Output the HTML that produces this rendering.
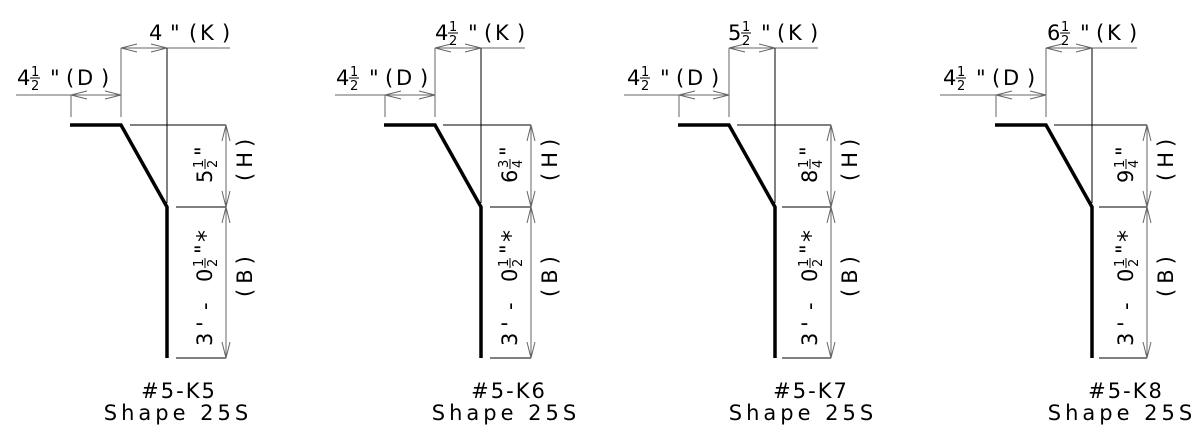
<!DOCTYPE html>
<html><head><meta charset="utf-8"><style>
html,body{margin:0;padding:0;background:#fff;}
svg{display:block;}
text{font-family:"DejaVu Sans","Liberation Sans",sans-serif;fill:#000;}
.m{font-size:21px;}
.f{font-size:13px;}
.t{stroke:#666;stroke-width:1;fill:none;}
.k{stroke:#000;stroke-width:1;fill:none;}
.th{stroke:#000;stroke-width:3.5;fill:none;stroke-linejoin:miter;}
</style></head><body>
<svg width="1200" height="433" viewBox="0 0 1200 433" xmlns="http://www.w3.org/2000/svg">

<!-- PANEL 1 -->
<g transform="translate(0,0)">
<polyline class="th" points="70,125 121,125 167,207 167,358"/>
<line class="t" x1="16" y1="95" x2="121" y2="95"/>
<line class="t" x1="71" y1="95" x2="71" y2="117"/>
<line class="t" x1="121" y1="48" x2="121" y2="117"/>
<polyline class="t" points="87,91 71,95 87,99"/><polyline class="t" points="105,91 121,95 105,99"/>
<line class="t" x1="121" y1="48" x2="230" y2="48"/>
<line class="k" x1="167" y1="48" x2="167" y2="203"/>
<polyline class="t" points="137,44 121,48 137,52"/><polyline class="t" points="151,44 167,48 151,52"/>
<g transform="translate(17,85)"><text class="m" x="0" y="0">4</text><text class="f" x="14" y="-9">1</text><line class="k" x1="13" y1="-7" x2="23" y2="-7"/><text class="f" x="14" y="5">2</text><text class="m" x="33" y="0">"</text><text class="m" x="49" y="0">(</text><text class="m" x="60" y="0">D</text><text class="m" x="84" y="0">)</text></g>
<g transform="translate(149,40)"><text class="m" x="0" y="0">4</text><text class="m" x="21" y="0">"</text><text class="m" x="40" y="0">(</text><text class="m" x="51" y="0">K</text><text class="m" x="73" y="0">)</text></g>
<g transform="translate(-2,0)">
<line class="k" x1="132" y1="125" x2="228" y2="125"/>
<line class="k" x1="178" y1="207" x2="228" y2="207"/>
<line class="k" x1="178" y1="358" x2="228" y2="358"/>
<line class="t" x1="228" y1="125" x2="228" y2="358"/>
<polyline class="t" points="224,141 228,125 232,141"/><polyline class="t" points="224,191 228,207 232,191"/>
<polyline class="t" points="224,223 228,207 232,223"/><polyline class="t" points="224,342 228,358 232,342"/>
<g transform="translate(214,183) rotate(-90)"><text class="m" x="0" y="0">5</text><text class="f" x="15" y="-9">1</text><line class="k" x1="14" y1="-7" x2="24" y2="-7"/><text class="f" x="15" y="5">2</text><text class="m" x="27" y="-2">"</text></g>
<g transform="translate(214,346) rotate(-90)"><text class="m" x="0" y="0">3</text><text class="m" x="19" y="0">'</text><text class="m" x="36" y="0">-</text><text class="m" x="64" y="0">0</text><text class="f" x="79" y="-9">1</text><line class="k" x1="78" y1="-7" x2="88" y2="-7"/><text class="f" x="79" y="5">2</text><text class="m" x="92" y="-2">"</text><text class="m" x="104" y="2" style="font-size:24px">*</text></g>
<g transform="translate(254,181) rotate(-90)"><text class="m" x="0" y="0" letter-spacing="5">(H)</text></g>
<g transform="translate(254,297) rotate(-90)"><text class="m" x="0" y="0" letter-spacing="5">(B)</text></g>
</g>
<text class="m" x="179" y="398" text-anchor="middle" letter-spacing="2">#5-K5</text>
<text class="m" x="178" y="420" text-anchor="middle" letter-spacing="4">Shape 25S</text>
</g>

<!-- PANEL 2 -->
<g transform="translate(314,0)">
<polyline class="th" points="70,125 121,125 167,207 167,358"/>
<line class="t" x1="21" y1="95" x2="121" y2="95"/>
<line class="t" x1="71" y1="95" x2="71" y2="117"/>
<line class="t" x1="121" y1="48" x2="121" y2="117"/>
<polyline class="t" points="87,91 71,95 87,99"/><polyline class="t" points="105,91 121,95 105,99"/>
<line class="t" x1="121" y1="48" x2="211" y2="48"/>
<line class="k" x1="167" y1="48" x2="167" y2="203"/>
<polyline class="t" points="137,44 121,48 137,52"/><polyline class="t" points="151,44 167,48 151,52"/>
<g transform="translate(22,85)"><text class="m" x="0" y="0">4</text><text class="f" x="14" y="-9">1</text><line class="k" x1="13" y1="-7" x2="23" y2="-7"/><text class="f" x="14" y="5">2</text><text class="m" x="33" y="0">"</text><text class="m" x="49" y="0">(</text><text class="m" x="60" y="0">D</text><text class="m" x="84" y="0">)</text></g>
<g transform="translate(121,40)"><text class="m" x="0" y="0">4</text><text class="f" x="14" y="-9">1</text><line class="k" x1="13" y1="-7" x2="23" y2="-7"/><text class="f" x="14" y="5">2</text><text class="m" x="33" y="0">"</text><text class="m" x="49" y="0">(</text><text class="m" x="60" y="0">K</text><text class="m" x="82" y="0">)</text></g>
<g transform="translate(-11,0)">
<line class="k" x1="140" y1="125" x2="228" y2="125"/>
<line class="k" x1="187" y1="207" x2="228" y2="207"/>
<line class="k" x1="187" y1="358" x2="228" y2="358"/>
<line class="t" x1="228" y1="125" x2="228" y2="358"/>
<polyline class="t" points="224,141 228,125 232,141"/><polyline class="t" points="224,191 228,207 232,191"/>
<polyline class="t" points="224,223 228,207 232,223"/><polyline class="t" points="224,342 228,358 232,342"/>
<g transform="translate(214,183) rotate(-90)"><text class="m" x="0" y="0">6</text><text class="f" x="15" y="-9">3</text><line class="k" x1="14" y1="-7" x2="24" y2="-7"/><text class="f" x="15" y="5">4</text><text class="m" x="27" y="-2">"</text></g>
<g transform="translate(214,346) rotate(-90)"><text class="m" x="0" y="0">3</text><text class="m" x="19" y="0">'</text><text class="m" x="36" y="0">-</text><text class="m" x="64" y="0">0</text><text class="f" x="79" y="-9">1</text><line class="k" x1="78" y1="-7" x2="88" y2="-7"/><text class="f" x="79" y="5">2</text><text class="m" x="92" y="-2">"</text><text class="m" x="104" y="2" style="font-size:24px">*</text></g>
<g transform="translate(254,181) rotate(-90)"><text class="m" x="0" y="0" letter-spacing="5">(H)</text></g>
<g transform="translate(254,297) rotate(-90)"><text class="m" x="0" y="0" letter-spacing="5">(B)</text></g>
</g>
<text class="m" x="195" y="398" text-anchor="middle" letter-spacing="2">#5-K6</text>
<text class="m" x="192" y="420" text-anchor="middle" letter-spacing="4">Shape 25S</text>
</g>

<!-- PANEL 3 -->
<g transform="translate(608,0)">
<polyline class="th" points="70,125 121,125 167,207 167,358"/>
<line class="t" x1="16" y1="95" x2="121" y2="95"/>
<line class="t" x1="71" y1="95" x2="71" y2="117"/>
<line class="t" x1="121" y1="48" x2="121" y2="117"/>
<polyline class="t" points="87,91 71,95 87,99"/><polyline class="t" points="105,91 121,95 105,99"/>
<line class="t" x1="121" y1="48" x2="210" y2="48"/>
<line class="k" x1="167" y1="48" x2="167" y2="203"/>
<polyline class="t" points="137,44 121,48 137,52"/><polyline class="t" points="151,44 167,48 151,52"/>
<g transform="translate(19,85)"><text class="m" x="0" y="0">4</text><text class="f" x="14" y="-9">1</text><line class="k" x1="13" y1="-7" x2="23" y2="-7"/><text class="f" x="14" y="5">2</text><text class="m" x="33" y="0">"</text><text class="m" x="49" y="0">(</text><text class="m" x="60" y="0">D</text><text class="m" x="84" y="0">)</text></g>
<g transform="translate(120,40)"><text class="m" x="0" y="0">5</text><text class="f" x="14" y="-9">1</text><line class="k" x1="13" y1="-7" x2="23" y2="-7"/><text class="f" x="14" y="5">2</text><text class="m" x="33" y="0">"</text><text class="m" x="49" y="0">(</text><text class="m" x="60" y="0">K</text><text class="m" x="82" y="0">)</text></g>
<g transform="translate(-5,0)">
<line class="k" x1="134" y1="125" x2="228" y2="125"/>
<line class="k" x1="179" y1="207" x2="228" y2="207"/>
<line class="k" x1="179" y1="358" x2="228" y2="358"/>
<line class="t" x1="228" y1="125" x2="228" y2="358"/>
<polyline class="t" points="224,141 228,125 232,141"/><polyline class="t" points="224,191 228,207 232,191"/>
<polyline class="t" points="224,223 228,207 232,223"/><polyline class="t" points="224,342 228,358 232,342"/>
<g transform="translate(214,183) rotate(-90)"><text class="m" x="0" y="0">8</text><text class="f" x="15" y="-9">1</text><line class="k" x1="14" y1="-7" x2="24" y2="-7"/><text class="f" x="15" y="5">4</text><text class="m" x="27" y="-2">"</text></g>
<g transform="translate(214,346) rotate(-90)"><text class="m" x="0" y="0">3</text><text class="m" x="19" y="0">'</text><text class="m" x="36" y="0">-</text><text class="m" x="64" y="0">0</text><text class="f" x="79" y="-9">1</text><line class="k" x1="78" y1="-7" x2="88" y2="-7"/><text class="f" x="79" y="5">2</text><text class="m" x="92" y="-2">"</text><text class="m" x="104" y="2" style="font-size:24px">*</text></g>
<g transform="translate(254,181) rotate(-90)"><text class="m" x="0" y="0" letter-spacing="5">(H)</text></g>
<g transform="translate(254,297) rotate(-90)"><text class="m" x="0" y="0" letter-spacing="5">(B)</text></g>
</g>
<text class="m" x="203" y="398" text-anchor="middle" letter-spacing="2">#5-K7</text>
<text class="m" x="195" y="420" text-anchor="middle" letter-spacing="4">Shape 25S</text>
</g>

<!-- PANEL 4 -->
<g transform="translate(925,0)">
<polyline class="th" points="70,125 121,125 167,207 167,358"/>
<line class="t" x1="15" y1="95" x2="121" y2="95"/>
<line class="t" x1="71" y1="95" x2="71" y2="117"/>
<line class="t" x1="121" y1="48" x2="121" y2="117"/>
<polyline class="t" points="87,91 71,95 87,99"/><polyline class="t" points="105,91 121,95 105,99"/>
<line class="t" x1="121" y1="48" x2="212" y2="48"/>
<line class="k" x1="167" y1="48" x2="167" y2="203"/>
<polyline class="t" points="137,44 121,48 137,52"/><polyline class="t" points="151,44 167,48 151,52"/>
<g transform="translate(18,85)"><text class="m" x="0" y="0">4</text><text class="f" x="14" y="-9">1</text><line class="k" x1="13" y1="-7" x2="23" y2="-7"/><text class="f" x="14" y="5">2</text><text class="m" x="33" y="0">"</text><text class="m" x="49" y="0">(</text><text class="m" x="60" y="0">D</text><text class="m" x="84" y="0">)</text></g>
<g transform="translate(122,40)"><text class="m" x="0" y="0">6</text><text class="f" x="14" y="-9">1</text><line class="k" x1="13" y1="-7" x2="23" y2="-7"/><text class="f" x="14" y="5">2</text><text class="m" x="33" y="0">"</text><text class="m" x="49" y="0">(</text><text class="m" x="60" y="0">K</text><text class="m" x="82" y="0">)</text></g>
<g transform="translate(-6,0)">
<line class="k" x1="135" y1="125" x2="228" y2="125"/>
<line class="k" x1="180" y1="207" x2="228" y2="207"/>
<line class="k" x1="180" y1="358" x2="228" y2="358"/>
<line class="t" x1="228" y1="125" x2="228" y2="358"/>
<polyline class="t" points="224,141 228,125 232,141"/><polyline class="t" points="224,191 228,207 232,191"/>
<polyline class="t" points="224,223 228,207 232,223"/><polyline class="t" points="224,342 228,358 232,342"/>
<g transform="translate(214,183) rotate(-90)"><text class="m" x="0" y="0">9</text><text class="f" x="15" y="-9">1</text><line class="k" x1="14" y1="-7" x2="24" y2="-7"/><text class="f" x="15" y="5">4</text><text class="m" x="27" y="-2">"</text></g>
<g transform="translate(214,346) rotate(-90)"><text class="m" x="0" y="0">3</text><text class="m" x="19" y="0">'</text><text class="m" x="36" y="0">-</text><text class="m" x="64" y="0">0</text><text class="f" x="79" y="-9">1</text><line class="k" x1="78" y1="-7" x2="88" y2="-7"/><text class="f" x="79" y="5">2</text><text class="m" x="92" y="-2">"</text><text class="m" x="104" y="2" style="font-size:24px">*</text></g>
<g transform="translate(254,181) rotate(-90)"><text class="m" x="0" y="0" letter-spacing="5">(H)</text></g>
<g transform="translate(254,297) rotate(-90)"><text class="m" x="0" y="0" letter-spacing="5">(B)</text></g>
</g>
<text class="m" x="201" y="398" text-anchor="middle" letter-spacing="2">#5-K8</text>
<text class="m" x="197" y="420" text-anchor="middle" letter-spacing="4">Shape 25S</text>
</g>
</svg>
</body></html>
